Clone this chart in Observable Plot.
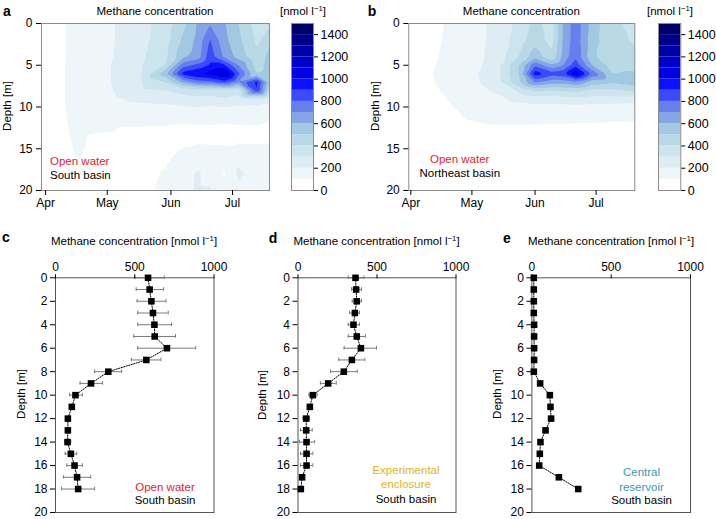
<!DOCTYPE html>
<html><head><meta charset="utf-8">
<script src="https://cdn.jsdelivr.net/npm/d3@7"></script>
<script src="https://cdn.jsdelivr.net/npm/@observablehq/plot@0.6"></script>
<style>
body{margin:0;background:#fff;}
#root{position:relative;width:716px;height:519px;overflow:hidden;font-family:"Liberation Sans",Arial,Helvetica,sans-serif;color:#000;background:#fff;}
#root svg text{font-family:"Liberation Sans",Arial,Helvetica,sans-serif;fill:#000;}
.pl{position:absolute;}
.pc svg text{font-size:12px;}
.pb svg text{font-size:12.5px;}
.pp svg text{font-size:12px;}
.lbl{position:absolute;white-space:nowrap;line-height:1;transform:translate(-50%,-50%);font-size:11.5px;}
.lft{transform:translate(0,-50%);}
.rot{transform:translate(-50%,-50%) rotate(-90deg);font-size:11.5px;}
.let{font-weight:bold;font-size:14px;}
sup{font-size:0.68em;vertical-align:0.5em;line-height:0;}
</style></head><body><div id="root"></div>
<script>
// ---------- data: contour panels ----------
const depthGrid = [0, 2, 4, 5, 6, 7, 8, 9, 10, 12, 13, 14, 16, 18, 20];
const datesA = ["2016-03-30","2016-04-17","2016-05-03","2016-05-17","2016-05-29","2016-06-07","2016-06-14","2016-06-20","2016-06-27","2016-07-04","2016-07-13","2016-07-19"];
const concA = [
  [40, 130, 190, 270, 340, 470, 610, 690, 610, 500, 350, 380],
  [40, 130, 190, 270, 350, 520, 630, 810, 630, 520, 380, 470],
  [40, 130, 195, 280, 370, 580, 650, 860, 680, 560, 420, 540],
  [40, 135, 200, 290, 400, 760, 830, 920, 920, 700, 450, 550],
  [40, 135, 200, 290, 560, 940, 1000, 1040, 1150, 820, 500, 540],
  [40, 135, 200, 290, 400, 640, 760, 780, 860, 700, 930, 520],
  [40, 135, 195, 280, 300, 340, 360, 360, 380, 340, 900, 430],
  [40, 135, 180, 230, 240, 260, 280, 270, 290, 260, 300, 250],
  [40, 130, 150, 170, 180, 190, 200, 190, 200, 190, 180, 160],
  [40, 125, 108, 110, 110, 100, 105, 105, 100, 105, 110, 90],
  [40, 120, 100, 85, 70, 75, 70, 70, 75, 70, 70, 60],
  [40, 115, 50, 50, 60, 80, 85, 80, 80, 85, 85, 90],
  [40, 105, 50, 50, 80, 130, 160, 150, 140, 170, 150, 130],
  [40, 70, 50, 50, 110, 160, 210, 170, 90, 220, 150, 110],
  [40, 60, 50, 60, 130, 170, 210, 210, 150, 180, 120, 100]
];
const datesB = ["2016-03-31","2016-04-14","2016-04-28","2016-05-12","2016-05-24","2016-06-01","2016-06-09","2016-06-15","2016-06-21","2016-06-29","2016-07-09","2016-07-20"];
const concB = [
  [40, 85, 150, 220, 330, 430, 350, 620, 760, 560, 420, 370],
  [40, 90, 150, 220, 350, 460, 360, 620, 760, 540, 430, 390],
  [40, 98, 155, 225, 400, 560, 420, 640, 780, 520, 440, 420],
  [40, 103, 160, 230, 500, 780, 620, 700, 860, 600, 460, 450],
  [40, 110, 170, 240, 500, 960, 850, 880, 1080, 780, 500, 520],
  [40, 105, 165, 235, 480, 720, 650, 650, 700, 550, 520, 560],
  [40, 95, 150, 210, 320, 420, 400, 420, 430, 380, 380, 420],
  [40, 80, 140, 170, 230, 250, 250, 260, 270, 260, 260, 250],
  [40, 60, 130, 150, 170, 175, 170, 170, 175, 170, 160, 150],
  [40, 40, 90, 105, 105, 103, 102, 100, 98, 96, 94, 92],
  [40, 40, 60, 70, 70, 70, 70, 70, 70, 70, 70, 70],
  [40, 40, 40, 45, 45, 45, 45, 45, 45, 45, 45, 45],
  [40, 40, 40, 40, 40, 40, 40, 40, 40, 40, 40, 40],
  [40, 40, 40, 40, 40, 40, 40, 40, 40, 40, 40, 40],
  [40, 40, 40, 40, 40, 40, 40, 40, 40, 40, 40, 40]
];
const levels = [100, 200, 300, 400, 500, 600, 700, 800, 900, 1000, 1100, 1200, 1300, 1400];
const levelColors = ["#ffffff","#eef6f9","#ddedf3","#cce4ed","#b9d9e7","#a3c8e1","#85a5e5","#6580ee","#3a4cfa","#0b10fe","#0000e6","#0000c8","#0000a8","#000088","#00006a"];
const bandLows = [0, 100, 200, 300, 400, 500, 600, 700, 800, 900, 1000, 1100, 1200, 1300, 1400];
const cbarTicks = [0, 200, 400, 600, 800, 1000, 1200, 1400];
const monthTicks = ["2016-04-01","2016-05-01","2016-06-01","2016-07-01"];

// ---------- data: profile panels ----------
const profileDepths = [0,1,2,3,4,5,6,7,8,9,10,11,12,13,14,15,16,17,18];
const cMean = [584, 594, 605, 615, 624, 626, 703, 573, 333, 224, 126, 103, 78, 78, 76, 97, 120, 136, 143];
const cLow  = [500, 509, 515, 519, 519, 494, 519, 479, 247, 155, 88, 90, 68, 66, 59, 61, 72, 51, 38];
const cHigh = [686, 682, 697, 711, 732, 757, 885, 665, 417, 297, 170, 116, 88, 90, 97, 134, 170, 222, 247];
const dMean = [364, 368, 372, 360, 351, 372, 398, 341, 290, 191, 94, 75, 52, 52, 54, 54, 54, 26, 18];
const dLow  = [318, 339, 343, 326, 318, 318, 292, 258, 206, 142, 69, 65, 31, 16, 9, 16, 16, 20, 12];
const dHigh = [417, 402, 402, 389, 389, 427, 497, 423, 375, 242, 121, 85, 73, 90, 106, 94, 94, 32, 24];
const eMean = [12, 12, 12, 12, 14, 14, 14, 14, 12, 52, 113, 117, 121, 86, 54, 50, 46, 170, 292];

// ---------- helpers ----------
const root = document.getElementById("root");
const baseStyle = "background:transparent;overflow:visible;max-width:none;font-family:'Liberation Sans',Arial,sans-serif;color:#000;";
const intFmt = d3.format("d");
function place(el, left, top, cls) {
  const d = document.createElement("div");
  d.className = "pl " + cls; d.style.left = left + "px"; d.style.top = top + "px";
  d.appendChild(el); root.appendChild(d);
}
function label(html, x, y, cls = "", color = "#000") {
  const d = document.createElement("div");
  d.className = "lbl " + cls; d.style.left = x + "px"; d.style.top = y + "px";
  d.style.color = color; d.innerHTML = html; root.appendChild(d);
}
function grid(dates, conc) {
  const out = [];
  depthGrid.forEach((z, i) => dates.forEach((d, j) => out.push({date: new Date(d), depth: z, v: conc[i][j]})));
  return out;
}
function contourPanel(dates, conc, w, ml, mr) {
  return Plot.plot({
    width: w, height: 210, marginLeft: ml, marginRight: mr, marginTop: 23, marginBottom: 20,
    style: baseStyle,
    x: {type: "utc", domain: [new Date(dates[0]), new Date(dates[dates.length - 1])]},
    y: {domain: [0, 20], reverse: true},
    color: {type: "threshold", domain: levels, range: levelColors},
    marks: [
      Plot.contour(grid(dates, conc), {x: "date", y: "depth", fill: "v", thresholds: levels, interpolate: "barycentric"}),
      Plot.frame({stroke: "#8c8c8c"}),
      Plot.axisX({ticks: monthTicks.map(s => new Date(s)), tickFormat: d3.utcFormat("%b"), tickSize: 5, tickPadding: 3, label: null}),
      Plot.axisY({ticks: [0, 5, 10, 15, 20], tickFormat: intFmt, tickSize: 5, tickPadding: 4, label: null})
    ]
  });
}
function colorbar(ml, mr) {
  const bands = bandLows.map((lo, i) => ({lo, hi: lo + 100, color: levelColors[i]}));
  return Plot.plot({
    width: 60, height: 210, marginLeft: ml, marginRight: mr, marginTop: 23, marginBottom: 20,
    style: baseStyle,
    y: {domain: [0, 1500]},
    marks: [
      Plot.barY(bands, {y1: "lo", y2: "hi", fill: "color"}),
      Plot.frame({stroke: "#8c8c8c"}),
      Plot.axisY({anchor: "right", ticks: cbarTicks, tickFormat: intFmt, tickSize: 4, tickPadding: 3, label: null})
    ]
  });
}
function profilePanel(mean, low, high, w, ml, mr) {
  const rows = profileDepths.map((z, i) => ({depth: z, v: mean[i], lo: low ? low[i] : null, hi: high ? high[i] : null}));
  const marks = [Plot.frame({stroke: "#555"})];
  if (low) {
    marks.push(
      Plot.ruleY(rows, {y: "depth", x1: "lo", x2: "hi", stroke: "#7a7a7a", strokeWidth: 1}),
      Plot.ruleX(rows, {x: "lo", y1: "depth", y2: "depth", insetTop: -1.8, insetBottom: -1.8, stroke: "#7a7a7a"}),
      Plot.ruleX(rows, {x: "hi", y1: "depth", y2: "depth", insetTop: -1.8, insetBottom: -1.8, stroke: "#7a7a7a"})
    );
  }
  marks.push(
    Plot.line(rows, {x: "v", y: "depth", stroke: "#000", strokeWidth: 1, strokeDasharray: "1.3,1.3"}),
    Plot.dot(rows, {x: "v", y: "depth", symbol: "square", r: 3.7, fill: "#000"}),
    Plot.axisX({anchor: "top", ticks: [0, 500, 1000], tickFormat: intFmt, tickSize: 4, tickPadding: 3, label: null}),
    Plot.axisY({ticks: [0, 2, 4, 6, 8, 10, 12, 14, 16, 18, 20], tickFormat: intFmt, tickSize: 5, tickPadding: 3, label: null})
  );
  return Plot.plot({
    width: w, height: 294, marginLeft: ml, marginRight: mr, marginTop: 52.3, marginBottom: 7,
    style: baseStyle,
    x: {domain: [0, 1000]},
    y: {domain: [0, 20], reverse: true},
    marks
  });
}

// ---------- panels ----------
place(contourPanel(datesA, concA, 280, 41, 11), 0, 0, "pc");
place(colorbar(6, 32), 285, 0, "pb");
place(contourPanel(datesB, concB, 280, 41.3, 12.7), 367, 0, "pc");
place(colorbar(6, 31.7), 651.7, 0, "pb");
place(profilePanel(cMean, cLow, cHigh, 225, 55, 11.5), 0, 225, "pp");
place(profilePanel(dMean, dLow, dHigh, 225, 57.5, 9.5), 240, 225, "pp");
place(profilePanel(eMean, null, null, 240, 61.4, 20), 470, 225, "pp");

// ---------- text ----------
const unitHTML = "[nmol l<sup>−1</sup>]";
label("a", 7, 11, "let"); label("b", 372, 11, "let");
label("c", 6, 237, "let"); label("d", 273, 238, "let"); label("e", 507, 238, "let");
label("Methane concentration", 155, 12);
label("Methane concentration", 521.3, 12);
label(unitHTML, 303, 12);
label(unitHTML, 670, 12);
label("Depth [m]", 8, 106, "rot");
label("Depth [m]", 376, 106, "rot");
label("Open water", 50, 162, "lft", "#e3242b");
label("South basin", 50, 176, "lft");
label("Open water", 459.7, 159.5, "", "#e3242b");
label("Northeast basin", 459.8, 173.5);
label("Methane concentration " + unitHTML, 134, 241.7);
label("Methane concentration " + unitHTML, 376.5, 241.7);
label("Methane concentration " + unitHTML, 611, 241.7);
label("Depth [m]", 21.7, 394, "rot");
label("Depth [m]", 263.3, 395, "rot");
label("Depth [m]", 498.3, 394, "rot");
label("Open water", 165, 487.5, "", "#e3242b");
label("South basin", 165, 500.7);
label("Experimental", 406, 470.8, "", "#e0b428");
label("enclosure", 406, 485.3, "", "#e0b428");
label("South basin", 406, 499.5);
label("Central", 641.5, 473, "", "#3a9ab3");
label("reservoir", 641.5, 487.5, "", "#3a9ab3");
label("South basin", 641.5, 501.3);
</script></body></html>
